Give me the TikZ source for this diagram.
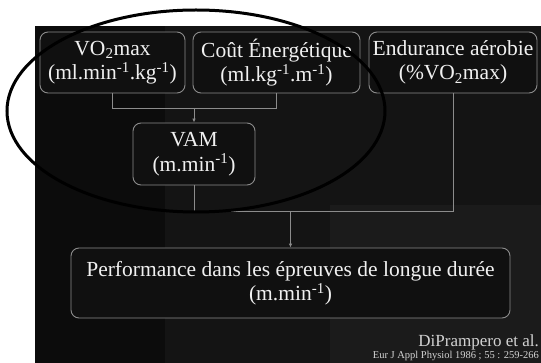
\documentclass[tikz,border=0pt]{standalone}
\usepackage{fontspec}
\setmainfont{Liberation Serif}
\usepackage{tikz}
\usepackage{xcolor}
\usetikzlibrary{arrows.meta,positioning,calc}

\definecolor{slidebg}{HTML}{141414}
\definecolor{slidedark}{HTML}{0C0C0C}
\definecolor{slidelight}{HTML}{1B1B1B}
\definecolor{boxline}{HTML}{8C8C8C}
\definecolor{boxfill}{HTML}{101010}
\definecolor{slidetext}{HTML}{F0F0F0}

\tikzset{
  factor/.style={draw=boxline, fill=boxfill, rounded corners=8pt, line width=0.9pt,
    text=slidetext, align=center, inner sep=0pt,
    font=\fontsize{21.5}{24.5}\selectfont},
  link/.style={draw=boxline, line width=0.9pt},
  linkarrow/.style={link, -{Latex[length=4pt,width=3.5pt]}}
}

\newcommand{\expo}[1]{\textsuperscript{#1}}

\begin{document}
\begin{tikzpicture}[x=1pt, y=-1pt]
    \useasboundingbox (0,0) rectangle (541,363);
    \clip (0,0) rectangle (541,363);

    % slide background
    \fill[slidebg] (35,26) rectangle (541,363);
    \fill[slidedark] (35,26) rectangle (165,363);
    \fill[slidelight] (330,205) rectangle (541,363);

    % the three factors
    \node[factor, minimum width=145pt, minimum height=61pt] (vo2) at (112.5,62.5)
        {VO\textsubscript{2}max\\(ml.min\expo{-1}.kg\expo{-1})};
    \node[factor, minimum width=167pt, minimum height=61pt] (cout) at (276.5,62.5)
        {Coût Énergétique\\(ml.kg\expo{-1}.m\expo{-1})};
    \node[factor, minimum width=168pt, minimum height=61pt] (endu) at (453,62.5)
        {Endurance aérobie\\(\%VO\textsubscript{2}max)};

    % maximal aerobic speed
    \node[factor, minimum width=122pt, minimum height=62pt] (vam) at (194,154)
        {VAM\\(m.min\expo{-1})};

    % performance
    \node[factor, minimum width=439pt, minimum height=70pt] (perf) at (290.5,283)
        {Performance dans les épreuves de longue durée\\(m.min\expo{-1})};

    % joins
    \coordinate (topjoin) at (194,108);
    \coordinate (botjoin) at (194,211);

    \draw[link] (vo2.south) |- (cout.south |- topjoin) -- (cout.south);
    \draw[linkarrow] (vam.north |- topjoin) -- (vam.north);

    \draw[link] (vam.south) |- (endu.south |- botjoin) -- (endu.south);
    \draw[linkarrow] (perf.north |- botjoin) -- (perf.north);

    % reference
    \node[anchor=base east, text=slidetext!88!black, inner sep=0pt,
          font=\fontsize{17}{19}\selectfont] (ref) at (539,347) {DiPrampero et al.};
    \node[anchor=base east, text=slidetext!88!black, inner sep=0pt,
          font=\fontsize{10.5}{12}\selectfont] (journal) at (539,359)
        {Eur J Appl Physiol 1986 ; 55 : 259-266};

    % highlight
    \draw[line width=3pt, black] (196,111) ellipse [x radius=189pt, y radius=101pt];
\end{tikzpicture}
\end{document}
